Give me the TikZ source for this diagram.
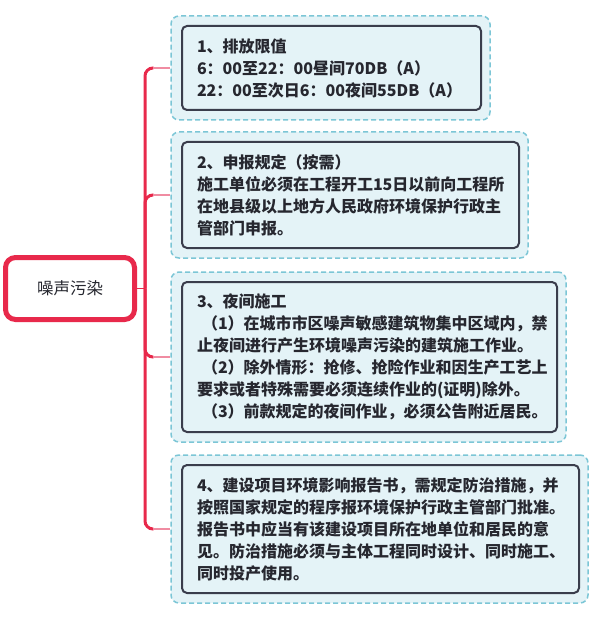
\documentclass[tikz,border=0pt]{standalone}
\usepackage{fontspec}
\setmainfont{Noto Sans CJK SC}
\usetikzlibrary{fit}
\definecolor{trunkred}{HTML}{E8294B}
\definecolor{twigpink}{HTML}{F08CA2}
\definecolor{dashblue}{HTML}{7CC6D6}
\definecolor{boxfill}{HTML}{E4F3F7}
\definecolor{boxline}{HTML}{3A3D4C}
\definecolor{ink}{HTML}{26272F}

\begin{document}
\begin{tikzpicture}[x=1pt,y=-1pt]

	\tikzset{topic/.style = {draw=trunkred,line width=5pt,rounded corners=10pt,fill=white,
		minimum width=129pt,minimum height=62pt,text=ink,font=\fontsize{16.5}{20}\selectfont}}
	\tikzset{leaf/.style = {draw=boxline,line width=2pt,rounded corners=5pt,fill=boxfill,
		anchor=west,align=left,inner xsep=15pt,text=ink,font=\bfseries\fontsize{16}{22}\selectfont}}
	\tikzset{frame/.style = {draw=dashblue,line width=1.5pt,dash pattern=on 5pt off 3pt,
		rounded corners=8pt,fill=boxfill,inner sep=10pt}}
	\tikzset{trunk/.style = {draw=trunkred,line width=3pt,rounded corners=8pt}}
	\tikzset{twig/.style = {draw=twigpink,line width=2pt}}
	\useasboundingbox (0,0) rectangle (595,620);
	% root
	\node[topic] (r) at (70,288.5) {噪声污染};
	\coordinate (j) at (145,288.5);
	% frames (behind the leaves)
	\path (181,26) coordinate (p1) (480,110) coordinate (q1);
	\path (181,142) coordinate (p2) (518,248) coordinate (q2);
	\path (181,282) coordinate (p3) (556,432) coordinate (q3);
	\path (181,465) coordinate (p4) (578,593) coordinate (q4);
	\foreach \i in {1,...,4}
		\node[frame,fit=(p\i)(q\i)] (o\i) {};
	% leaves
	\node[leaf,minimum width=299pt,minimum height=84pt,text width=269pt] (b1) at (181,68)
		{1、排放限值\\6：00至22：00昼间70DB（A）\\22：00至次日6：00夜间55DB（A）};
	\node[leaf,minimum width=337pt,minimum height=106pt,text width=307pt] (b2) at (181,195)
		{2、申报规定（按需）\\施工单位必须在工程开工15日以前向工程所\\在地县级以上地方人民政府环境保护行政主\\管部门申报。};
	\node[leaf,minimum width=375pt,minimum height=150pt,text width=345pt] (b3) at (181,357)
		{3、夜间施工\\\hspace{5pt}（1）在城市市区噪声敏感建筑物集中区域内，禁\\止夜间进行产生环境噪声污染的建筑施工作业。\\\hspace{5pt}（2）除外情形：抢修、抢险作业和因生产工艺上\\要求或者特殊需要必须连续作业的(证明)除外。\\\hspace{5pt}（3）前款规定的夜间作业，必须公告附近居民。};
	\node[leaf,minimum width=397pt,minimum height=128pt,text width=367pt] (b4) at (181,529)
		{4、建设项目环境影响报告书，需规定防治措施，并\\按照国家规定的程序报环境保护行政主管部门批准。\\报告书中应当有该建设项目所在地单位和居民的意\\见。防治措施必须与主体工程同时设计、同时施工、\\同时投产使用。};
	%edges
	\draw[trunkred,line width=1.5pt] (r.east) -- (j);
	\foreach \i in {1,...,4} {
		\draw[trunk] (j) |- ([xshift=-17pt]o\i.west);
		\draw[twig] ([xshift=-17pt]o\i.west) -- (o\i.west);
	}
\end{tikzpicture}
\end{document}
